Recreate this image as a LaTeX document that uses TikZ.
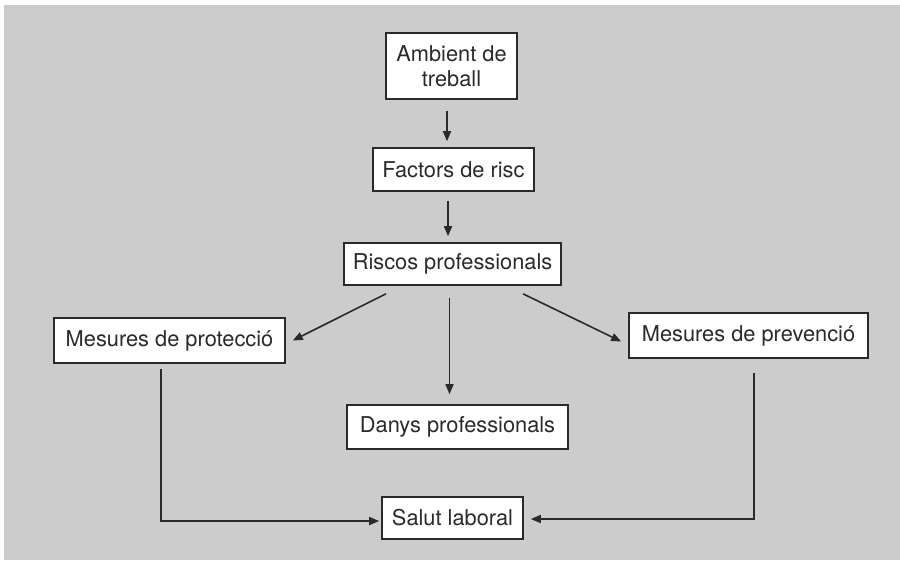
\documentclass[tikz,border=0pt]{standalone}
\usepackage{fontspec}
\setmainfont{TeX Gyre Heros}
\usetikzlibrary{arrows.meta}
\definecolor{bg}{HTML}{CCCCCC}
\definecolor{ink}{HTML}{2A2A2A}
\tikzset{
  box/.style={draw=ink, fill=white, line width=1.6pt, text=ink, inner sep=0pt,
    align=center, font=\fontsize{21.8}{25}\selectfont},
  arr/.style={draw=ink, line width=1.6pt, -{Triangle[length=10pt,width=8pt]}},
}
\begin{document}
\begin{tikzpicture}[x=1pt,y=-1pt]
\useasboundingbox (0,0) rectangle (900,560);
\fill[white] (0,0) rectangle (900,560);
\fill[bg] (4,5) rectangle (900,560);
\node[box, minimum width=131pt, minimum height=66pt] (amb) at (451.5,66) {Ambient de\\treball};
\node[box, minimum width=161pt, minimum height=43pt] (fac) at (453.5,169.5) {Factors de risc};
\node[box, minimum width=217pt, minimum height=42pt] (ris) at (452.5,264) {Riscos professionals};
\node[box, minimum width=231pt, minimum height=45pt] (prot) at (169.5,340.5) {Mesures de protecció};
\node[box, minimum width=239pt, minimum height=45pt] (prev) at (748.5,335.5) {Mesures de prevenció};
\node[box, minimum width=221pt, minimum height=44pt] (dan) at (457.5,427) {Danys professionals};
\node[box, minimum width=141pt, minimum height=42pt] (sal) at (452.5,518) {Salut laboral};
\draw[arr] ([shift={(-4.5,11)}]amb.south) -- ([shift={(-6.5,-6)}]fac.north);
\draw[arr] ([shift={(-5.5,9)}]fac.south) -- ([shift={(-4.5,-6)}]ris.north);
\draw[arr] ([shift={(-66.5,8)}]ris.south) -- ([shift={(7,0)}]prot.east);
\draw[arr] ([shift={(70.5,8)}]ris.south) -- ([shift={(-7,6)}]prev.west);
\draw[arr] ([shift={(-3,12)}]ris.south) -- ([shift={(-8,-10)}]dan.north);
\draw[arr] ([shift={(-8.5,5)}]prot.south) |- ([shift={(-2,3)}]sal.west);
\draw[arr] ([shift={(5.5,14)}]prev.south) |- ([shift={(7,1)}]sal.east);
\end{tikzpicture}
\end{document}
